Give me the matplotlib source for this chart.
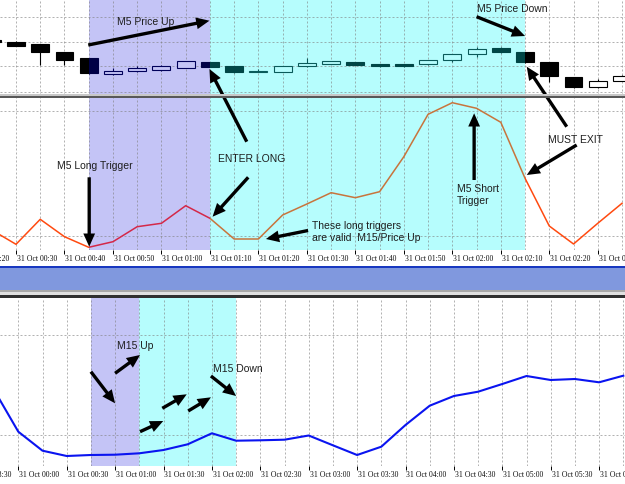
import matplotlib
matplotlib.use("Agg")
import matplotlib.pyplot as plt
from matplotlib.patches import Rectangle

W, H, DPI = 625, 484, 100

# M5 bars, index -1 .. 25 (00:25 .. 02:35), values in chart units
m5_open = [55.0, 53.3, 51.0, 42.7, 36.7, 20.7, 24.0, 24.7, 27.3, 33.0, 29.3, 23.3, 23.3, 29.3,
           31.3, 33.0, 31.0, 30.7, 30.7, 34.7, 40.7, 46.7, 43.0, 32.7, 17.7, 7.7, 14.3]
m5_high = [55.3, 54.0, 51.0, 43.0, 37.0, 26.7, 29.0, 30.0, 34.0, 33.5, 29.5, 25.7, 29.0, 36.7,
           34.5, 33.3, 31.0, 31.3, 35.0, 41.0, 48.3, 48.3, 43.3, 33.0, 18.0, 16.0, 20.0]
m5_low = [53.0, 49.0, 30.0, 30.0, 21.5, 20.5, 23.3, 23.7, 27.0, 28.0, 21.7, 23.0, 23.0, 28.3,
          31.0, 30.0, 28.3, 28.5, 30.0, 33.0, 37.7, 41.7, 32.5, 13.3, 6.7, 7.0, 14.0]
m5_close = [53.5, 49.3, 42.7, 34.7, 21.7, 24.3, 26.7, 28.7, 33.7, 28.3, 23.0, 23.8, 29.0, 32.3,
            34.0, 30.3, 28.7, 29.3, 34.7, 40.7, 45.7, 43.0, 33.0, 19.0, 8.3, 14.3, 19.0]

# M5 trigger indicator (same bars)
m5_signal = [20.0, 5.7, 30.7, 13.3, 2.7, 8.3, 23.3, 26.7, 44.3, 31.7, 11.0, 11.0, 35.0, 46.0,
             57.3, 52.3, 58.3, 93.3, 135.7, 147.3, 141.7, 127.7, 71.7, 24.0, 6.0, 26.7, 46.7]

# M15 indicator, index -1 .. 25 (23:45 .. 06:15)
m15_signal = [76.0, 34.3, 15.3, 10.0, 11.0, 11.3, 12.7, 16.0, 21.7, 32.7, 25.3, 25.7, 26.3, 30.5,
              20.7, 11.0, 19.3, 41.0, 60.3, 70.0, 74.3, 82.0, 90.0, 86.0, 87.0, 83.7, 90.3]

m5_tick_labels = ["31 Oct 00:20", "31 Oct 00:30", "31 Oct 00:40", "31 Oct 00:50", "31 Oct 01:00",
                  "31 Oct 01:10", "31 Oct 01:20", "31 Oct 01:30", "31 Oct 01:40", "31 Oct 01:50",
                  "31 Oct 02:00", "31 Oct 02:10", "31 Oct 02:20", "31 Oct 02:30"]
m15_tick_labels = ["30 Oct 23:30", "31 Oct 00:00", "31 Oct 00:30", "31 Oct 01:00", "31 Oct 01:30",
                   "31 Oct 02:00", "31 Oct 02:30", "31 Oct 03:00", "31 Oct 03:30", "31 Oct 04:00",
                   "31 Oct 04:30", "31 Oct 05:00", "31 Oct 05:30", "31 Oct 06:00"]

PURPLE = "#c4c4f6"
CYAN = "#b6fdfd"
GRID = dict(color="#808080", alpha=0.6, linestyle=(0, (2, 2)), linewidth=0.72)
TXT = dict(family="Liberation Sans", fontsize=7.5, color="#1e1e1e", ha="left", va="center")

CANDLE_STYLES = {
    "white": dict(bear="#000000", bull="#ffffff", edge="#000000", line="#ff4a10"),
    "purple": dict(bear="#000046", bull=PURPLE, edge="#00005a", line="#d42848"),
    "cyan": dict(bear="#004646", bull=CYAN, edge="#0a5a5a", line="#c8743c"),
}

fig = plt.figure(figsize=(W / DPI, H / DPI), dpi=DPI)
fig.patch.set_facecolor("white")


def add_ax(top, bottom):
    return fig.add_axes([0, 1 - bottom / H, 1, (bottom - top) / H])


def band(y0, y1, color):
    fig.add_artist(Rectangle((0, 1 - y1 / H), 1, (y1 - y0) / H, transform=fig.transFigure,
                             facecolor=color, edgecolor="none", zorder=5))


def setup(ax, xlim, ylim, xs, hgrid, labels=None):
    for s in ax.spines.values():
        s.set_visible(False)
    ax.set_xticks(xs[1::2])
    ax.set_xticks(xs[::2], minor=True)
    ax.set_yticks(hgrid)
    ax.set_xlim(*xlim)
    ax.set_ylim(*ylim)
    ax.tick_params(axis="y", length=0, labelleft=False)
    ax.tick_params(axis="x", which="both", length=0, labelbottom=False)
    ax.grid(True, which="both", **GRID)
    if labels is not None:
        ax.tick_params(axis="x", which="major", length=3, width=0.7, color="black")
        for pos, lab in zip(range(-2, 2 * len(labels) - 2, 2), labels):
            ax.annotate(lab, xy=(pos, 0), xycoords=("data", "axes fraction"), xytext=(1, -9),
                        textcoords="offset pixels", ha="left", va="center", fontsize=5.6,
                        family="Liberation Serif", color="#101010", annotation_clip=False)


def arrow(ax, tail, head, head_ax=None):
    ax.annotate("", xy=head, xycoords=(head_ax or ax).transData, xytext=tail, textcoords=ax.transData,
                arrowprops=dict(arrowstyle="simple,head_length=0.95,head_width=0.85,tail_width=0.24",
                                fc="black", ec="black", lw=0, shrinkA=0, shrinkB=0, mutation_scale=10),
                annotation_clip=False)


m5_x = list(range(-1, len(m5_open) - 1))
m15_x = list(range(-1, len(m15_signal) - 1))
m5_regions = [(-5, 3, "white"), (3, 8, "purple"), (8, 21, "cyan"), (21, 30, "white")]

ax1 = add_ax(0, 95)
ax2 = add_ax(97, 250)
ax3 = add_ax(298, 466)

m5_xlim = ((0 - 16) / 24.24, (W - 16) / 24.24)
m15_xlim = ((0 - 18.3) / 24.2, (W - 18.3) / 24.2)
setup(ax1, m5_xlim, (0, 95), m5_x, [3.3, 29, 53.3, 78.3])
setup(ax2, m5_xlim, (0, 153), m5_x, [14, 139], m5_tick_labels)
setup(ax3, m15_xlim, (0, 168), m15_x, [31, 131], m15_tick_labels)

for ax in (ax1, ax2):
    ax.axvspan(3, 8, color=PURPLE, lw=0, zorder=0.5)
    ax.axvspan(8, 21, color=CYAN, lw=0, zorder=0.5)
ax3.axvspan(3, 5, color=PURPLE, lw=0, zorder=0.5)
ax3.axvspan(5, 9, color=CYAN, lw=0, zorder=0.5)

# candles and M5 indicator, recoloured inside each shaded zone
bw = 0.74
for x0, x1, name in m5_regions:
    st = CANDLE_STYLES[name]
    clip1 = Rectangle((x0, -1000), x1 - x0, 3000, transform=ax1.transData)
    for x, o, h, l, c in zip(m5_x, m5_open, m5_high, m5_low, m5_close):
        bull = c >= o
        wick = ax1.plot([x, x], [l, h], color=st["edge"], lw=0.8, zorder=3, solid_capstyle="butt")[0]
        wick.set_clip_path(clip1)
        body = Rectangle((x - bw / 2, min(o, c)), bw, max(abs(c - o), 0.8),
                         facecolor=st["bull"] if bull else st["bear"],
                         edgecolor=st["edge"] if bull else st["bear"], lw=0.8, zorder=4)
        ax1.add_patch(body)
        body.set_clip_path(clip1)
    clip2 = Rectangle((x0, -1000), x1 - x0, 3000, transform=ax2.transData)
    ln = ax2.plot(m5_x, m5_signal, color=st["line"], lw=1.1, zorder=3)[0]
    ln.set_clip_path(clip2)

ax3.plot(m15_x, m15_signal, color="#0a14f0", lw=1.5, zorder=3)
for ax, lim in ((ax1, m5_xlim), (ax2, m5_xlim), (ax3, m15_xlim)):
    ax.set_xlim(*lim)

# window frame pieces
band(94.5, 96, "#c8c8c8")
band(96, 97.5, "#585858")
band(265.5, 268, "#1838c0")
band(268, 290, "#8098de")
band(290, 292, "#a8a8a8")
band(292, 295, "#e0e0e0")
band(295, 297.5, "#303030")

# top panel notes
ax1.text(4.15, 73, "M5 Price Up", **TXT)
arrow(ax1, (2.98, 50), (7.98, 74.3))
ax1.text(19.0, 86.3, "M5 Price Down", **TXT)
arrow(ax1, (19.0, 78.3), (21.0, 59))

# middle panel notes
ax2.text(8.33, 91, "ENTER LONG", **TXT)
arrow(ax2, (9.52, 108.3), (7.98, 26), head_ax=ax1)
arrow(ax2, (9.58, 72.7), (8.11, 33.3))
ax2.text(1.68, 84, "M5 Long Trigger", **TXT)
arrow(ax2, (3.02, 72.7), (3.02, 3.3))
ax2.text(12.2, 24, "These long triggers", **TXT)
ax2.text(12.2, 11.7, "are valid  M15/Price Up", **TXT)
arrow(ax2, (12.05, 19.5), (10.31, 11))
ax2.text(18.18, 61.3, "M5 Short", **TXT)
ax2.text(18.18, 49, "Trigger", **TXT)
arrow(ax2, (18.9, 70), (18.9, 136.7))
ax2.text(21.96, 110, "MUST EXIT", **TXT)
arrow(ax2, (22.72, 123.3), (21.07, 28.3), head_ax=ax1)
arrow(ax2, (23.13, 105), (21.07, 75))

# bottom panel notes
ax3.text(4.07, 120, "M15 Up", **TXT)
arrow(ax3, (4.0, 92.7), (5.03, 111))
arrow(ax3, (3.0, 94.3), (4.0, 62.7))
ax3.text(8.06, 97, "M15 Down", **TXT)
arrow(ax3, (7.96, 90), (9.0, 70))
arrow(ax3, (5.03, 34.3), (5.99, 45))
arrow(ax3, (5.95, 57.7), (6.96, 71.7))
arrow(ax3, (7.02, 55), (7.96, 68.7))

fig.savefig("out.png", dpi=DPI)
